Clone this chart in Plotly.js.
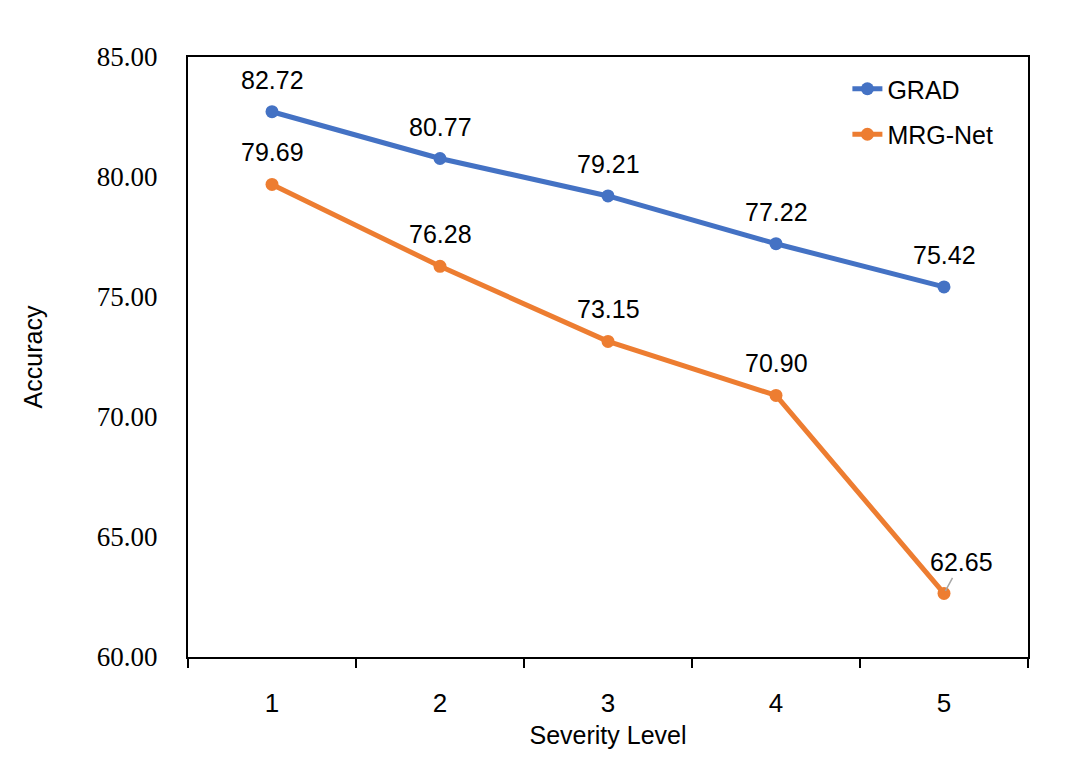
<!DOCTYPE html>
<html>
<head>
<meta charset="utf-8">
<script src="https://cdn.plot.ly/plotly-3.0.1.min.js"></script>
<style>
body{margin:0;background:#fff;}
#chart{width:1080px;height:767px;}
</style>
</head>
<body>
<div id="chart"></div>
<script>
// severity levels and accuracies
var levels = [1, 2, 3, 4, 5];
var gradAcc = [82.72, 80.77, 79.21, 77.22, 75.42];
var mrgAcc = [79.69, 76.28, 73.15, 70.90, 62.65];
var yTicks = [60, 65, 70, 75, 80, 85];
var xBounds = [0.5, 1.5, 2.5, 3.5, 4.5, 5.5];

var blue = 'rgb(68,114,196)';
var orange = 'rgb(237,125,49)';
var sans = 'Liberation Sans, Arial, sans-serif';

function disp_lines(chartname){
	var PLOTMASTER = document.getElementById(chartname);

	var traceA = {
		x: levels,
		y: gradAcc,
		type: 'scatter',
		mode: 'lines+markers',
		name: 'GRAD',
		legendgroup: 'a',
		line: {color: blue, width: 5},
		marker: {color: blue, size: 13}
	};
	var traceB = {
		x: levels,
		y: mrgAcc,
		type: 'scatter',
		mode: 'lines+markers',
		name: 'MRG-Net',
		legendgroup: 'b',
		line: {color: orange, width: 5},
		marker: {color: orange, size: 13}
	};

	//data labels above each point
	var notes = [];
	function addLabels(vals){
		for (var i = 0; i < vals.length; i++){
			notes.push({
				x: levels[i], y: vals[i], text: vals[i].toFixed(2),
				showarrow: false, yshift: 32,
				font: {family: sans, size: 25, color: '#000'}
			});
		}
	}
	addLabels(gradAcc);
	addLabels(mrgAcc.slice(0, 4));
	//last orange label sits to the right with a small leader line
	var k = mrgAcc.length - 1;
	notes.push({
		x: levels[k], y: mrgAcc[k], text: mrgAcc[k].toFixed(2),
		showarrow: true, arrowhead: 0, arrowwidth: 1.5, arrowcolor: '#a6a6a6',
		ax: 17, ay: -31, standoff: 3,
		font: {family: sans, size: 25, color: '#000'}
	});

	var layout = {
		width: 1080,
		height: 767,
		margin: {l: 188, r: 52, t: 57, b: 110},
		paper_bgcolor: '#fff',
		plot_bgcolor: '#fff',
		showlegend: true,
		legend: {
			x: 0.785, y: 0.985, xanchor: 'left', yanchor: 'top',
			font: {family: sans, size: 25, color: '#000'},
			bgcolor: 'rgba(0,0,0,0)',
			traceorder: 'grouped',
			tracegroupgap: 10,
			itemwidth: 30
		},
		xaxis: {
			range: [0.5, 5.5],
			tickmode: 'array',
			tickvals: levels,
			ticktext: levels.map(String),
			ticks: '',
			ticklabelstandoff: 22,
			showgrid: false,
			zeroline: false,
			showline: true,
			linecolor: '#000',
			linewidth: 2,
			mirror: true,
			tickfont: {family: sans, size: 26, color: '#000'},
			title: {text: 'Severity Level', font: {family: sans, size: 25, color: '#000'}, standoff: 9}
		},
		xaxis2: {
			overlaying: 'x',
			range: [0.5, 5.5],
			tickmode: 'array',
			tickvals: xBounds,
			showticklabels: false,
			ticks: 'outside',
			ticklen: 10,
			tickwidth: 2,
			tickcolor: '#000',
			showgrid: false,
			zeroline: false,
			showline: false
		},
		yaxis: {
			range: [60, 85],
			tickmode: 'array',
			tickvals: yTicks,
			ticktext: yTicks.map(function(v){return v.toFixed(2);}),
			ticks: '',
			ticklabelstandoff: 23,
			showgrid: false,
			zeroline: false,
			showline: true,
			linecolor: '#000',
			linewidth: 2,
			mirror: true,
			tickfont: {family: 'Liberation Serif, Times New Roman, serif', size: 27, color: '#000'},
			title: {text: 'Accuracy', font: {family: sans, size: 25, color: '#000'}, standoff: 47}
		},
		annotations: notes
	};

	var dummy = {x: [0.5], y: [60], xaxis: 'x2', type: 'scatter', mode: 'markers',
		marker: {opacity: 0}, showlegend: false, hoverinfo: 'skip'};

	Plotly.newPlot(PLOTMASTER, [traceA, traceB, dummy], layout, {displayModeBar: false});
}
disp_lines('chart');
</script>
</body>
</html>
